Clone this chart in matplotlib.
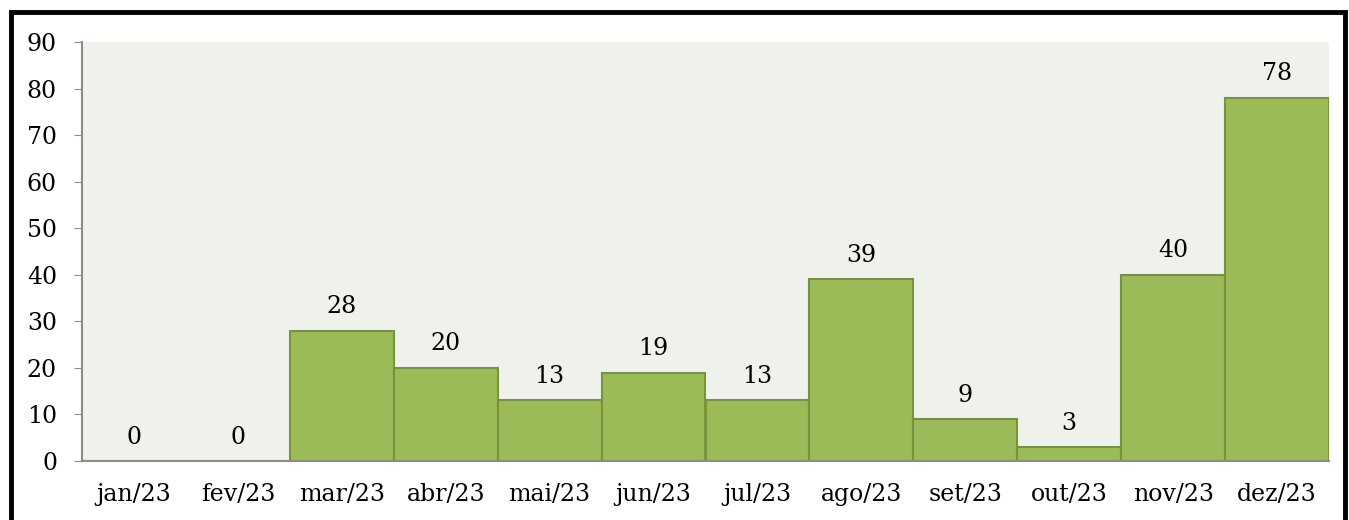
import matplotlib
matplotlib.use("Agg")
import matplotlib.pyplot as plt
from matplotlib.patches import Rectangle

months = ["jan/23", "fev/23", "mar/23", "abr/23", "mai/23", "jun/23",
          "jul/23", "ago/23", "set/23", "out/23", "nov/23", "dez/23"]
values = [0, 0, 28, 20, 13, 19, 13, 39, 9, 3, 40, 78]
yticks = [0, 10, 20, 30, 40, 50, 60, 70, 80, 90]

plt.rcParams['font.family'] = ['DejaVu Serif']
FS = 17

fig = plt.figure(figsize=(13.49, 5.2), dpi=100)
ax = fig.add_axes([82/1349, 1-461/520, (1329-82)/1349, (461-42)/520])
ax.set_facecolor("#EFF2EA")

x = list(range(len(months)))
ax.bar(x, values, width=1.0, color="#9BBB59", edgecolor="#77933C", linewidth=1.5, zorder=2)
for xi, v in zip(x, values):
    ax.annotate(str(v), (xi, v), xytext=(0, 9), textcoords="offset points",
                ha="center", va="bottom", fontsize=FS, color="black")

ax.set_xlim(-0.5, len(months) - 0.5)
ax.set_ylim(0, 90)
ax.set_yticks(yticks)
ax.set_xticks(x)
ax.set_xticklabels(months)
ax.tick_params(axis='y', length=6, color="#8C8C8C", labelsize=FS, pad=12)
ax.tick_params(axis='x', length=0, labelsize=FS, pad=16)
for s in ["top", "right"]:
    ax.spines[s].set_visible(False)
for s in ["left", "bottom"]:
    ax.spines[s].set_color("#8C8C8C")
    ax.spines[s].set_linewidth(1.5)

fig.patches.append(Rectangle((11/1349, -0.05), (1345-11)/1349, 1.05 - 12/520,
                             transform=fig.transFigure, fill=False,
                             edgecolor="black", linewidth=3.5))

fig.savefig("out.png", dpi=100)
